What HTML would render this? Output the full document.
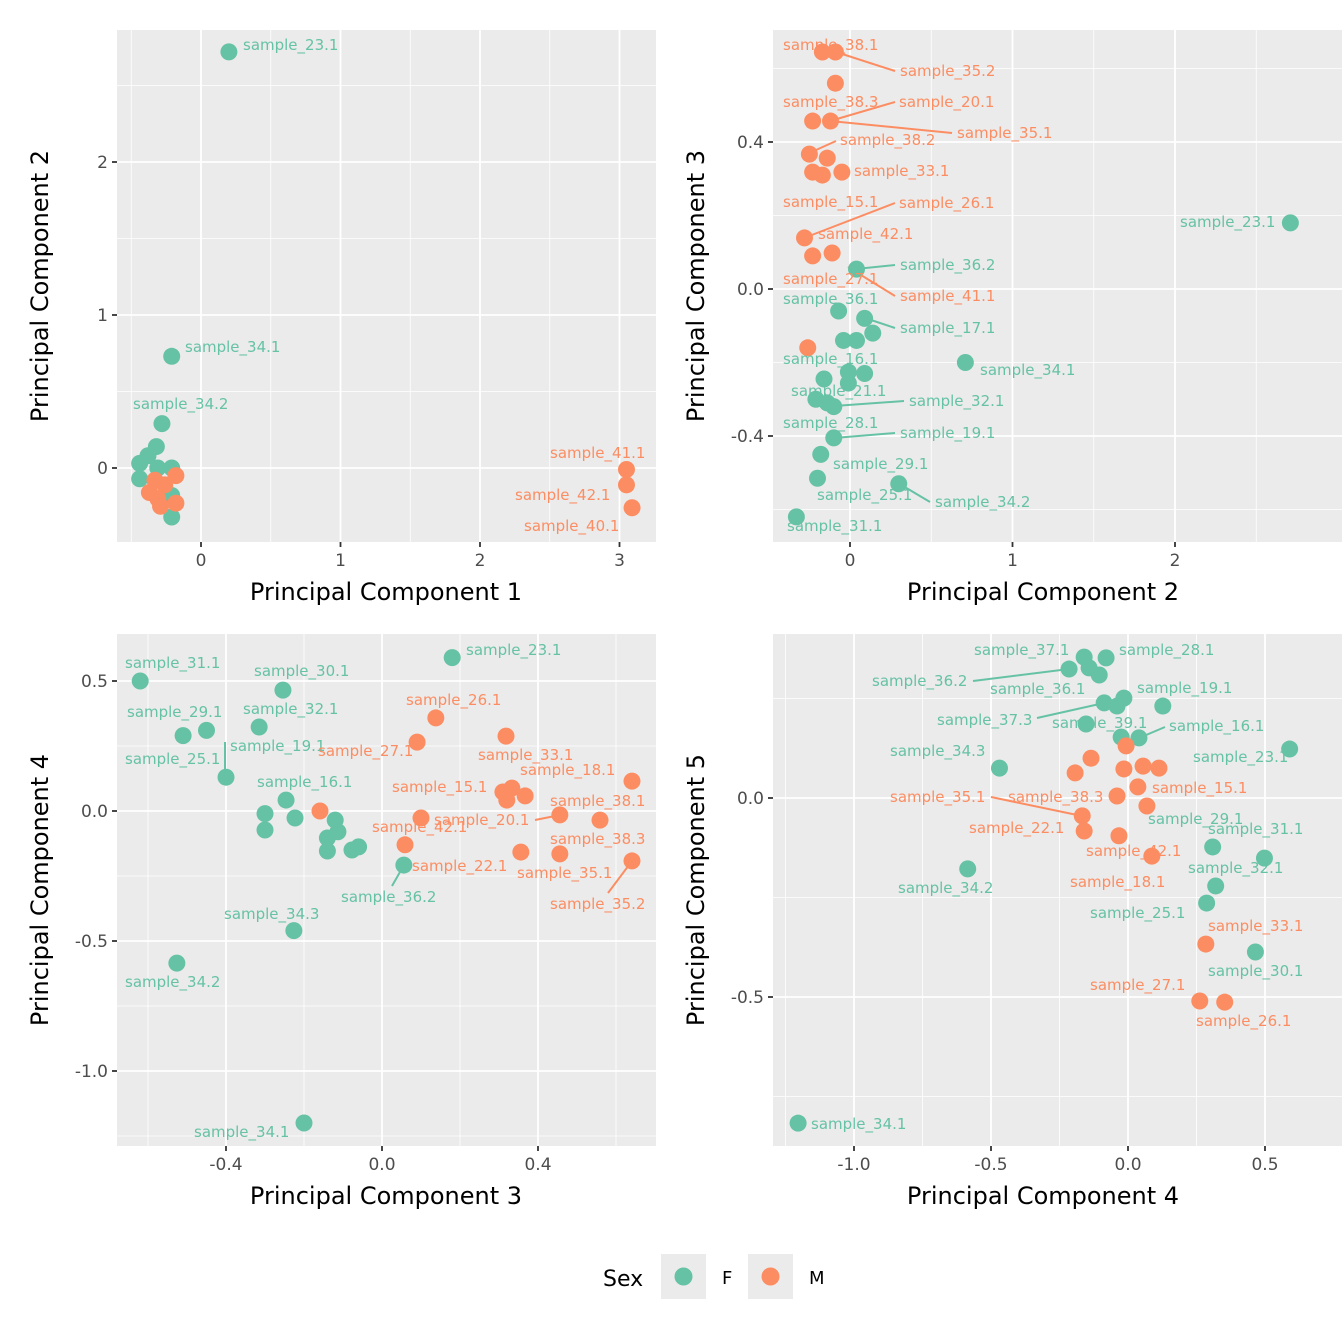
<!DOCTYPE html>
<html><head><meta charset="utf-8">
<style>
html,body{margin:0;padding:0;background:#fff;}
svg{display:block;font-family:"DejaVu Sans","Liberation Sans",sans-serif;}
</style></head>
<body>
<svg id="chart" width="1344" height="1344" viewBox="0 0 1344 1344" xmlns="http://www.w3.org/2000/svg"></svg>
<script>
// ---- data: panel 1 (PC1 vs PC2)
const p1Names=["sample_23.1","sample_34.1","sample_34.2","f1","f2","f3","f4","f5","f6","f7","f8","m1","m2","m3","m4","m5","m6","m7","sample_41.1","sample_42.1","sample_40.1"];
const p1X=[0.20,-0.21,-0.28,-0.44,-0.44,-0.38,-0.32,-0.31,-0.21,-0.21,-0.21,-0.37,-0.29,-0.18,-0.18,-0.33,-0.26,-0.31,3.05,3.05,3.09];
const p1Y=[2.72,0.73,0.29,0.03,-0.07,0.08,0.14,0,0,-0.18,-0.32,-0.16,-0.25,-0.05,-0.23,-0.08,-0.11,-0.2,-0.01,-0.11,-0.26];
const p1Sex="FFFFFFFFFFFMMMMMMMMMM";
// ---- panel 2 (PC2 vs PC3)
const p2X=[-0.17,-0.09,-0.09,-0.23,-0.12,-0.25,-0.23,-0.17,-0.14,-0.05,-0.28,-0.23,-0.11,-0.26,2.71,0.04,-0.07,0.09,-0.04,0.04,0.14,0.71,-0.01,0.09,-0.16,-0.01,-0.21,-0.14,-0.10,-0.10,-0.18,-0.20,0.30,-0.33];
const p2Y=[0.645,0.645,0.56,0.457,0.457,0.367,0.318,0.31,0.356,0.318,0.139,0.09,0.098,-0.16,0.18,0.054,-0.06,-0.08,-0.14,-0.14,-0.12,-0.2,-0.226,-0.23,-0.245,-0.256,-0.3,-0.31,-0.32,-0.405,-0.45,-0.515,-0.53,-0.62];
const p2Sex="MMMMMMMMMMMMMMFFFFFFFFFFFFFFFFFFFF";
// ---- panel 3 (PC3 vs PC4)
const p3X=[-0.62,-0.51,-0.45,-0.315,-0.254,0.18,-0.40,-0.246,-0.30,-0.30,-0.223,-0.12,-0.113,-0.14,-0.14,-0.077,-0.06,0.056,-0.226,-0.526,-0.20,0.138,0.09,0.318,-0.159,0.10,0.059,0.31,0.333,0.32,0.367,0.456,0.559,0.356,0.456,0.641,0.641];
const p3Y=[0.5,0.29,0.31,0.323,0.465,0.59,0.13,0.042,-0.01,-0.073,-0.027,-0.035,-0.08,-0.104,-0.154,-0.15,-0.138,-0.208,-0.46,-0.585,-1.2,0.358,0.265,0.288,0,-0.027,-0.13,0.073,0.088,0.042,0.058,-0.015,-0.035,-0.158,-0.165,0.115,-0.192];
const p3Sex="FFFFFFFFFFFFFFFFFFFFFMMMMMMMMMMMMMMMM";
// ---- panel 4 (PC4 vs PC5)
const p4X=[-0.16,-0.215,-0.142,-0.105,-0.08,-0.087,-0.04,-0.015,0.127,-0.153,-0.025,0.04,0.59,-0.469,-0.585,0.309,0.498,0.32,0.287,0.465,-1.204,-0.007,-0.135,-0.193,-0.015,0.055,0.113,-0.04,0.036,0.069,-0.167,-0.16,-0.033,0.087,0.284,0.262,0.353];
const p4Y=[0.354,0.324,0.327,0.309,0.352,0.239,0.231,0.251,0.231,0.186,0.153,0.151,0.123,0.075,-0.178,-0.123,-0.151,-0.221,-0.264,-0.387,-0.817,0.131,0.1,0.063,0.073,0.08,0.075,0.005,0.028,-0.02,-0.045,-0.083,-0.095,-0.146,-0.367,-0.51,-0.513];
const p4Sex="FFFFFFFFFFFFFFFFFFFFFMMMMMMMMMMMMMMMM";
// tick labels
const p1XTicks=[0,1,2,3], p1YTicks=[0,1,2];
const p2XTicks=[0,1,2], p2YTicks=[-0.4,0.0,0.4];
const p3XTicks=[-0.4,0.0,0.4], p3YTicks=[-1.0,-0.5,0.0,0.5];
const p4XTicks=[-1.0,-0.5,0.0,0.5], p4YTicks=[-0.5,0.0];

const NS="http://www.w3.org/2000/svg";
const svg=document.getElementById('chart');
const COL={F:"#66C2A5",M:"#FC8D62"};
function el(tag,attrs,parent,text){const e=document.createElementNS(NS,tag);for(const k in attrs)e.setAttribute(k,attrs[k]);if(text!==undefined)e.textContent=text;(parent||svg).appendChild(e);return e;}
function lin(v0,p0,v1,p1){return v=>p0+(v-v0)*(p1-p0)/(v1-v0);}
function fmt(v,dec){return v.toFixed(dec);}

const panels=[
 {name:"pc1-vs-pc2",L:117,T:30,R:656,B:542,tc:386,sx:lin(0,201,3,619.5),sy:lin(0,468,2,162),xt:p1XTicks,yt:p1YTicks,dec:0,xm:[-0.5,0.5,1.5,2.5],ym:[-0.5,0.5,1.5,2.5],X:p1X,Y:p1Y,S:p1Sex,xl:"Principal Component 1",yl:"Principal Component 2"},
 {name:"pc2-vs-pc3",L:773,T:30,R:1342,B:542,tc:1043,sx:lin(0,850,2,1175),sy:lin(0,289,0.4,142),xt:p2XTicks,yt:p2YTicks,dec:0,ydec:1,xm:[-0.5,0.5,1.5,2.5],ym:[-0.6,-0.2,0.2,0.6],X:p2X,Y:p2Y,S:p2Sex,xl:"Principal Component 2",yl:"Principal Component 3"},
 {name:"pc3-vs-pc4",L:117,T:634,R:656,B:1146,tc:386,sx:lin(0,382,0.4,538),sy:lin(0,811,0.5,681),xt:p3XTicks,yt:p3YTicks,dec:1,ydec:1,xm:[-0.6,-0.2,0.2,0.6],ym:[-1.25,-0.75,-0.25,0.25],X:p3X,Y:p3Y,S:p3Sex,xl:"Principal Component 3",yl:"Principal Component 4"},
 {name:"pc4-vs-pc5",L:773,T:634,R:1342,B:1146,tc:1043,sx:lin(0,1128,0.5,1265),sy:lin(0,798,-0.5,997),xt:p4XTicks,yt:p4YTicks,dec:1,ydec:1,xm:[-1.25,-0.75,-0.25,0.25],ym:[-0.75,-0.25,0.25],X:p4X,Y:p4Y,S:p4Sex,xl:"Principal Component 4",yl:"Principal Component 5"}
];

const labels=[
 [["sample_23.1",243,50,"F"],["sample_34.1",185,352,"F"],["sample_34.2",133,409,"F"],["sample_41.1",550,458,"M"],["sample_42.1",515,500,"M"],["sample_40.1",524,531,"M"]],
 [["sample_38.1",783,50,"M"],["sample_35.2",900,76,"M",836,52,895,71],["sample_38.3",783,107,"M"],["sample_20.1",899,107,"M",830,121,895,102],["sample_35.1",957,138,"M",830,121,952,133],["sample_38.2",840,145,"M",816,150,836,141],["sample_33.1",854,176,"M"],["sample_15.1",783,207,"M"],["sample_26.1",899,208,"M",804,238,895,203],["sample_42.1",818,239,"M"],["sample_27.1",783,284,"M"],["sample_41.1",900,301,"M",848,267,895,296],["sample_23.1",1180,227,"F"],["sample_36.2",900,270,"F",856,269,895,265],["sample_36.1",783,304,"F"],["sample_17.1",900,333,"F",865,318,895,328],["sample_16.1",783,364,"F"],["sample_34.1",980,375,"F"],["sample_21.1",791,396,"F"],["sample_32.1",909,406,"F",834,406,904,401],["sample_28.1",783,428,"F"],["sample_19.1",900,438,"F",834,438,895,433],["sample_29.1",833,469,"F"],["sample_25.1",817,500,"F"],["sample_34.2",935,507,"F",898,483,930,502],["sample_31.1",787,531,"F"]],
 [["sample_31.1",125,668,"F"],["sample_30.1",254,676,"F"],["sample_23.1",466,655,"F"],["sample_29.1",127,717,"F"],["sample_32.1",243,714,"F"],["sample_19.1",230,751,"F",225,770,225,742],["sample_25.1",125,764,"F"],["sample_16.1",257,787,"F"],["sample_36.2",341,902,"F",404,865,392,886],["sample_34.3",224,919,"F"],["sample_34.2",125,987,"F"],["sample_34.1",194,1137,"F"],
  ["sample_26.1",406,705,"M"],["sample_27.1",318,756,"M"],["sample_33.1",478,760,"M"],["sample_18.1",520,775,"M"],["sample_15.1",392,792,"M"],["sample_38.1",550,806,"M"],["sample_20.1",434,825,"M",560,815,535,820],["sample_42.1",372,832,"M"],["sample_38.3",550,844,"M"],["sample_22.1",412,871,"M"],["sample_35.1",517,878,"M"],["sample_35.2",550,909,"M",632,861,608,893]],
 [["sample_37.1",974,655,"F"],["sample_28.1",1119,655,"F"],["sample_36.2",872,686,"F",973,681,1069,669],["sample_36.1",990,694,"F"],["sample_19.1",1137,693,"F"],["sample_37.3",937,725,"F",1037,718,1104,703],["sample_39.1",1052,728,"F"],["sample_16.1",1169,731,"F",1139,738,1165,727],["sample_34.3",890,756,"F"],["sample_23.1",1193,762,"F"],["sample_29.1",1148,824,"F"],["sample_31.1",1208,834,"F"],["sample_32.1",1188,873,"F"],["sample_34.2",898,893,"F"],["sample_25.1",1090,918,"F"],["sample_30.1",1208,976,"F"],["sample_34.1",811,1129,"F"],
  ["sample_35.1",890,802,"M",991,797,1082,816],["sample_38.3",1008,802,"M"],["sample_15.1",1152,793,"M"],["sample_22.1",969,833,"M"],["sample_42.1",1086,856,"M"],["sample_18.1",1070,887,"M"],["sample_33.1",1208,931,"M"],["sample_27.1",1090,990,"M"],["sample_26.1",1196,1026,"M"]]
];

panels.forEach((p,pi)=>{
 const g=el('g',{});
 
 
 const bg=el('rect',{x:p.L,y:p.T,width:p.R-p.L,height:p.B-p.T,fill:"#EBEBEB"},g);
 
 
 p.xm.forEach(v=>{const x=p.sx(v);if(x>p.L&&x<p.R)el('line',{x1:x,x2:x,y1:p.T,y2:p.B,stroke:"#fff","stroke-width":0.8},g);});
 p.ym.forEach(v=>{const y=p.sy(v);if(y>p.T&&y<p.B)el('line',{x1:p.L,x2:p.R,y1:y,y2:y,stroke:"#fff","stroke-width":0.8},g);});
 p.xt.forEach(v=>{const x=p.sx(v);
  el('line',{x1:x,x2:x,y1:p.T,y2:p.B,stroke:"#fff","stroke-width":1.8},g);
  el('line',{x1:x,x2:x,y1:p.B,y2:p.B+5,stroke:"#333","stroke-width":1.8},g);
  const t=el('text',{x:x,y:p.B+24,"text-anchor":"middle","font-size":17,fill:"#4D4D4D"},g,fmt(v,p.dec));
  
  });
 p.yt.forEach(v=>{const y=p.sy(v);
  el('line',{x1:p.L,x2:p.R,y1:y,y2:y,stroke:"#fff","stroke-width":1.8},g);
  el('line',{x1:p.L-5,x2:p.L,y1:y,y2:y,stroke:"#333","stroke-width":1.8},g);
  const t=el('text',{x:p.L-9,y:y+6,"text-anchor":"end","font-size":17,fill:"#4D4D4D"},g,fmt(v,p.ydec||0));
  
  });
 labels[pi].forEach(l=>{if(l.length>4){const ln=el('line',{x1:l[4],y1:l[5],x2:l[6],y2:l[7],stroke:COL[l[3]],"stroke-width":2},g);
  
  }});
 const clip=el('clipPath',{id:'clip'+pi},g);el('rect',{x:p.L,y:p.T,width:p.R-p.L,height:p.B-p.T},clip);
 const pg=el('g',{'clip-path':'url(#clip'+pi+')'},g);
 p.X.forEach((xv,i)=>{const c=el('circle',{cx:p.sx(xv),cy:p.sy(p.Y[i]),r:8.5,fill:COL[p.S[i]]},pg);
  
  });
 labels[pi].forEach(l=>{const t=el('text',{x:l[1],y:l[2],"font-size":15,fill:COL[l[3]]},g,l[0]);
  
  });
 const xt=el('text',{x:p.tc,y:p.B+58,"text-anchor":"middle","font-size":24,fill:"#000"},g,p.xl);
 
 
 const cy=(p.T+p.B)/2, yx=p.L-69;
 const yt=el('text',{x:yx,y:cy,"text-anchor":"middle","font-size":24,fill:"#000",transform:`rotate(-90 ${yx} ${cy})`},g,p.yl);
 
 
});

const lg=el('g',{});


const lt=el('text',{x:603,y:1286,"font-size":22,fill:"#000"},lg,"Sex");


[["F",661,722],["M",748,809]].forEach(d=>{
 const e=el('g',{},lg);
 
 
 el('rect',{x:d[1],y:1254,width:45,height:45,fill:"#EBEBEB"},e);
 el('circle',{cx:d[1]+22.5,cy:1276.5,r:9,fill:COL[d[0]]},e);
 el('text',{x:d[2],y:1284,"font-size":18,fill:"#000"},e,d[0]);
});
</script>
</body></html>
